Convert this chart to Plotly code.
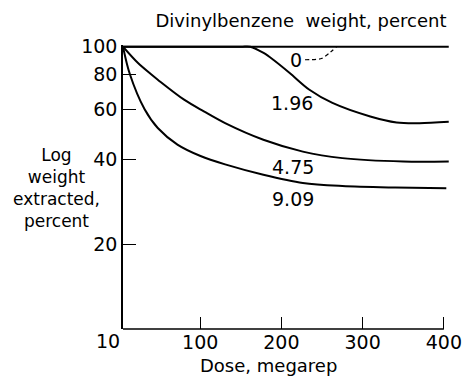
import math
import plotly.graph_objects as go

# Dose (megarep) and log weight extracted (percent) for each divinylbenzene content
dose_0 = [5, 406]
wt_0 = [100, 100]

dose_196 = [5, 150, 161.6, 178, 190, 210.2, 234.5, 262.8, 309.4, 341.8, 370, 406]
wt_196 = [100, 100, 100, 95, 89.9, 80.7, 70.4, 63.2, 56.6, 53.9, 53.6, 54.2]

dose_475 = [5, 23.5, 39.2, 47.8, 80.2, 104.5, 130.7, 177.8, 226.4, 275, 350, 406]
wt_475 = [100, 87.5, 80, 76.4, 64.9, 59.0, 53.6, 46.8, 42.5, 40.3, 39.2, 39.2]

dose_909 = [5, 13.4, 31.6, 47.8, 72, 100.4, 130.7, 177.8, 226.4, 275, 340, 403]
wt_909 = [100, 80, 60, 51.5, 45.0, 41.0, 38.3, 35.2, 32.9, 32.1, 31.7, 31.5]

# Dashed leader from the "0" label up to its curve
leader_dose = [229, 243, 250, 260, 268]
leader_wt = [89.9, 90.2, 91.0, 95.5, 100]

series_labels = ["0", "1.96", "4.75", "9.09"]
label_pos = [(218, 89.9), (213, 63.1), (214.2, 37.4), (214.8, 28.8)]

x_ticks = [100, 200, 300, 400]
y_ticks = [20, 40, 60, 80, 100]

FONT = "DejaVu Sans"
INK = "black"

fig = go.Figure()
for xs, ys in [(dose_0, wt_0), (dose_196, wt_196), (dose_475, wt_475), (dose_909, wt_909)]:
    fig.add_trace(go.Scatter(
        x=xs, y=ys, mode="lines",
        line=dict(color=INK, width=2, shape="spline", smoothing=0.9),
        showlegend=False, hoverinfo="skip",
    ))

fig.add_trace(go.Scatter(
    x=leader_dose, y=leader_wt, mode="lines",
    line=dict(color=INK, width=1.2, dash="4px,3px", shape="spline"),
    showlegend=False, hoverinfo="skip",
))

annotations = []
for text, (lx, ly) in zip(series_labels, label_pos):
    annotations.append(dict(
        x=lx, y=math.log10(ly), xref="x", yref="y", text=text,
        showarrow=False, font=dict(family=FONT, size=19, color=INK),
        xanchor="center", yanchor="middle",
    ))

# Lower-left "10" of the logarithmic weight axis
annotations.append(dict(
    x=0, y=0, xref="paper", yref="paper", text="10", showarrow=False,
    xshift=-15, yshift=-12, xanchor="center", yanchor="middle",
    font=dict(family=FONT, size=19, color=INK),
))

# Axis titles
annotations.append(dict(
    x=0, y=0.496, xref="paper", yref="paper", xshift=-67,
    text="Log<br>weight<br>extracted,<br>percent", align="center",
    showarrow=False, xanchor="center", yanchor="middle",
    font=dict(family=FONT, size=17, color=INK),
))
annotations.append(dict(
    x=0.441, y=0, xref="paper", yref="paper", yshift=-36,
    text="Dose, megarep", showarrow=False, xanchor="center", yanchor="middle",
    font=dict(family=FONT, size=18, color=INK),
))

fig.update_layout(
    width=474, height=378,
    margin=dict(l=123, r=18, t=45, b=49),
    paper_bgcolor="white", plot_bgcolor="white",
    title=dict(
        text="Divinylbenzene  weight, percent",
        x=301 / 474, y=1 - 21 / 378, xanchor="center", yanchor="middle",
        font=dict(family=FONT, size=18, color=INK),
    ),
    annotations=annotations,
    shapes=[dict(
        type="line", xref="x", yref="paper",
        x0=5, x1=400, y0=0, y1=0,
        line=dict(color=INK, width=1.5),
    )],
)

fig.update_xaxes(
    range=[5, 410], showline=False, showgrid=False, zeroline=False,
    tickmode="array", tickvals=x_ticks, ticktext=[str(v) for v in x_ticks],
    ticks="inside", ticklen=12, tickwidth=1.3, tickcolor=INK,
    tickfont=dict(family=FONT, size=19, color=INK),
)
fig.update_yaxes(
    type="log", range=[1, 2.006],
    showline=True, linecolor=INK, linewidth=1.5, mirror=False,
    showgrid=False, zeroline=False,
    tickmode="array", tickvals=y_ticks, ticktext=[str(v) for v in y_ticks],
    ticks="inside", ticklen=13, tickwidth=1.3, tickcolor=INK,
    tickfont=dict(family=FONT, size=19, color=INK),
)

fig.write_html("out.html")
